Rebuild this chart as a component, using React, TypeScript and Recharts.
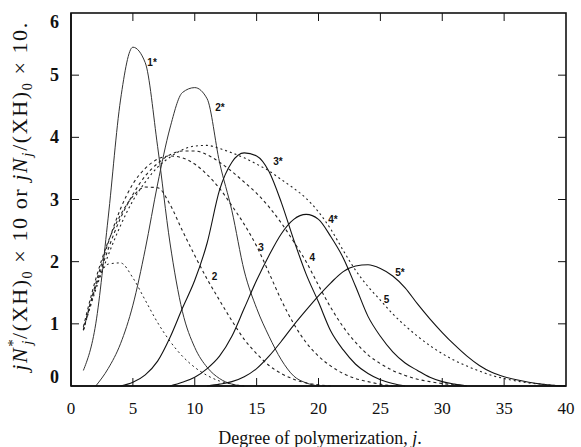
import React from 'react'
import { LineChart, Line, XAxis, YAxis, ReferenceDot } from 'recharts'

// degree of polymerization j (x categories)
const degree = [
  0, 1, 2, 3, 4, 5, 6, 7, 8, 9, 10, 11, 12, 13, 14, 15, 16, 17, 18, 19, 20,
  21, 22, 23, 24, 25, 26, 27, 28, 29, 30, 31, 32, 33, 34, 35, 36, 37, 38, 39, 40,
]

const xTicks = [0, 5, 10, 15, 20, 25, 30, 35, 40]
const yTicks = [0, 1, 2, 3, 4, 5, 6]

// solid curves 1*..5*  (index = j)
const star1 = [null, 0.25, 1.0, 2.7, 4.6, 5.45, 5.2, 3.85, 2.3, 1.2, 0.62, 0.3, 0.12, 0.03, 0]
const star2 = [null, null, 0, 0.28, 0.68, 1.3, 2.2, 3.25, 4.15, 4.72, 4.8, 4.62, 3.6, 2.82, 1.85, 1.25, 0.8, 0.42, 0.16, 0.05, 0]
const star3 = [null, null, null, null, 0, 0.06, 0.18, 0.4, 0.78, 1.25, 1.7, 2.3, 3.15, 3.6, 3.75, 3.7, 3.45, 2.95, 2.35, 1.8, 1.35, 0.88, 0.58, 0.35, 0.2, 0.1, 0.04, 0]
const star4 = [null, null, null, null, null, null, null, null, 0, 0.06, 0.14, 0.28, 0.48, 0.8, 1.25, 1.7, 2.1, 2.45, 2.68, 2.76, 2.68, 2.4, 2.06, 1.6, 1.12, 0.8, 0.55, 0.37, 0.25, 0.14, 0.07, 0.03, 0]
const star5 = [null, null, null, null, null, null, null, null, null, null, null, 0, 0.03, 0.07, 0.15, 0.28, 0.48, 0.72, 0.98, 1.22, 1.45, 1.66, 1.84, 1.93, 1.95, 1.89, 1.77, 1.58, 1.32, 1.08, 0.86, 0.66, 0.48, 0.33, 0.22, 0.15, 0.1, 0.06, 0.03, 0.01, 0]

// dashed curves 1..5
const dash1 = [null, 0.9, 1.6, 1.96, 1.98, 1.74, 1.38, 1.02, 0.72, 0.48, 0.3, 0.17, 0.08, 0.03, 0]
const dash2 = [null, 0.95, 1.72, 2.32, 2.75, 3.05, 3.2, 3.19, 2.92, 2.5, 2.1, 1.72, 1.38, 1.05, 0.75, 0.52, 0.33, 0.2, 0.11, 0.05, 0.02, 0]
const dash3 = [null, 0.9, 1.65, 2.3, 2.85, 3.25, 3.5, 3.65, 3.7, 3.67, 3.57, 3.4, 3.18, 2.9, 2.6, 2.25, 1.82, 1.38, 1.0, 0.7, 0.48, 0.32, 0.2, 0.12, 0.07, 0.03, 0]
const dash4 = [null, 0.9, 1.6, 2.2, 2.7, 3.08, 3.38, 3.58, 3.72, 3.78, 3.78, 3.72, 3.6, 3.45, 3.28, 3.1, 2.88, 2.62, 2.32, 2.0, 1.62, 1.26, 0.95, 0.7, 0.5, 0.36, 0.25, 0.17, 0.11, 0.07, 0.04, 0.02, 0]
const dash5 = [null, 0.9, 1.55, 2.1, 2.58, 2.98, 3.28, 3.52, 3.68, 3.8, 3.86, 3.87, 3.82, 3.75, 3.67, 3.57, 3.46, 3.32, 3.18, 3.02, 2.8, 2.52, 2.18, 1.86, 1.6, 1.38, 1.16, 0.97, 0.8, 0.65, 0.52, 0.41, 0.32, 0.24, 0.17, 0.12, 0.08, 0.05, 0.03, 0.01, 0]

// curve labels, in data units
const curveLabels = [
  { text: '1*', x: 6.55, y: 5.21 },
  { text: '2*', x: 12.04, y: 4.48 },
  { text: '3*', x: 16.73, y: 3.61 },
  { text: '4*', x: 21.17, y: 2.68 },
  { text: '5*', x: 26.59, y: 1.82 },
  { text: '2', x: 11.6, y: 1.76 },
  { text: '3', x: 15.35, y: 2.23 },
  { text: '4', x: 19.5, y: 2.06 },
  { text: '5', x: 25.5, y: 1.39 },
]

const series = [
  { key: 's1', values: star1, dash: undefined, color: '#333', w: 1 },
  { key: 's2', values: star2, dash: undefined, color: '#333', w: 1 },
  { key: 's3', values: star3, dash: undefined, color: '#111', w: 1.1 },
  { key: 's4', values: star4, dash: undefined, color: '#111', w: 1.1 },
  { key: 's5', values: star5, dash: undefined, color: '#111', w: 1.1 },
  { key: 'd1', values: dash1, dash: '2 3', color: '#222', w: 1 },
  { key: 'd2', values: dash2, dash: '3 3', color: '#222', w: 1.1 },
  { key: 'd3', values: dash3, dash: '3 3', color: '#222', w: 1.1 },
  { key: 'd4', values: dash4, dash: '3 3', color: '#222', w: 1.1 },
  { key: 'd5', values: dash5, dash: '2 3', color: '#222', w: 1.1 },
]

const data = degree.map((j, i) => {
  const row: any = { j }
  series.forEach(s => {
    row[s.key] = s.values[i] ?? null
  })
  return row
})

const serif = "'Liberation Serif', 'Times New Roman', serif"
const ink = '#111'

// chart layout
const W = 581
const H = 447
const margin = { top: 13, right: 15, bottom: 21, left: 26 }
const Y_AXIS_W = 45
const X_AXIS_H = 40
const PLOT_LEFT = margin.left + Y_AXIS_W
const PLOT_RIGHT = W - margin.right
const PLOT_TOP = margin.top
const PLOT_BOTTOM = H - margin.bottom - X_AXIS_H
const INNER = 8 // length of inward tick marks

function XTick({ x, y, payload }: any) {
  return (
    <text x={x} y={y} dy={6} textAnchor="middle" fontFamily={serif} fontSize={17} fill={ink}>
      {payload.value}
    </text>
  )
}

function YTick({ x, y, payload }: any) {
  // top and bottom labels sit a bit inside the frame
  const shift = payload.value === 6 ? 9 : payload.value === 0 ? -9 : 0
  return (
    <text x={x} y={y + shift} dy={6} textAnchor="end" fontFamily={serif} fontWeight={700} fontSize={18} fill={ink}>
      {payload.value}
    </text>
  )
}

// box round the plot with short inward marks on all four sides
function Frame() {
  const w = PLOT_RIGHT - PLOT_LEFT
  const h = PLOT_BOTTOM - PLOT_TOP
  const xs = xTicks.slice(1, -1).map(t => PLOT_LEFT + (w * t) / 40)
  const ys = yTicks.slice(1, -1).map(t => PLOT_BOTTOM - (h * t) / 6)
  return (
    <g>
      <rect x={PLOT_LEFT} y={PLOT_TOP} width={w} height={h} fill="none" stroke={ink} strokeWidth={1.6} />
      {xs.map(px => (
        <g key={`x${px}`}>
          <line x1={px} x2={px} y1={PLOT_BOTTOM} y2={PLOT_BOTTOM - INNER} stroke={ink} strokeWidth={1} />
          <line x1={px} x2={px} y1={PLOT_TOP} y2={PLOT_TOP + INNER} stroke={ink} strokeWidth={1} />
        </g>
      ))}
      {ys.map(py => (
        <g key={`y${py}`}>
          <line x1={PLOT_LEFT} x2={PLOT_LEFT + INNER} y1={py} y2={py} stroke={ink} strokeWidth={1} />
          <line x1={PLOT_RIGHT} x2={PLOT_RIGHT - INNER} y1={py} y2={py} stroke={ink} strokeWidth={1} />
        </g>
      ))}
    </g>
  )
}

function XTitle() {
  return (
    <g>
      <Frame />
      <text x={320} y={444} textAnchor="middle" fontFamily={serif} fontSize={18} fill={ink}>
        Degree of polymerization,{'\u00a0'}
        <tspan fontStyle="italic">j</tspan>.
      </text>
    </g>
  )
}

function YTitle() {
  const cx = 27
  const cy = 196
  return (
    <text
      x={cx}
      y={cy}
      transform={`rotate(-90 ${cx} ${cy})`}
      textAnchor="middle"
      fontFamily={serif}
      fontSize={22}
      letterSpacing={1.6}
      fill={ink}
    >
      <tspan fontStyle="italic">jN</tspan>
      <tspan fontSize={15} dy={-9}>*</tspan>
      <tspan fontSize={15} fontStyle="italic" dx={-7} dy={14}>j</tspan>
      <tspan dy={-5}>/(XH)</tspan>
      <tspan fontSize={14} dy={5}>0</tspan>
      <tspan dy={-5}>{'\u00a0×\u00a010\u00a0or\u00a0'}</tspan>
      <tspan fontStyle="italic">jN</tspan>
      <tspan fontSize={15} fontStyle="italic" dy={5}>j</tspan>
      <tspan dy={-5}>/(XH)</tspan>
      <tspan fontSize={14} dy={5}>0</tspan>
      <tspan dy={-5}>{'\u00a0×\u00a010.'}</tspan>
    </text>
  )
}

export default function App() {
  const frame = { stroke: ink, strokeWidth: 1.6 }
  return (
    <div style={{ position: 'absolute', left: 0, top: 0, background: '#fff' }}>
      <LineChart width={W} height={H} data={data} margin={margin}>
        <XAxis
          dataKey="j"
          type="number"
          domain={[0, 40]}
          ticks={xTicks}
          height={X_AXIS_H}
          axisLine={frame}
          tickLine={false}
          tickMargin={16}
          tick={<XTick />}
          label={<XTitle />}
        />
        <YAxis
          type="number"
          domain={[0, 6]}
          ticks={yTicks}
          width={Y_AXIS_W}
          axisLine={frame}
          tickLine={false}
          tickMargin={6}
          tick={<YTick />}
          label={<YTitle />}
        />
        {series.map(s => (
          <Line
            key={s.key}
            dataKey={s.key}
            type="monotone"
            stroke={s.color}
            strokeWidth={s.w}
            strokeDasharray={s.dash}
            dot={false}
            activeDot={false}
            isAnimationActive={false}
          />
        ))}
        {curveLabels.map(l => (
          <ReferenceDot
            key={l.text}
            x={l.x}
            y={l.y}
            r={0}
            stroke="none"
            fill="none"
            ifOverflow="visible"
            label={{
              value: l.text,
              position: 'center',
              fill: ink,
              fontSize: 10,
              fontWeight: 700,
              fontFamily: "'Liberation Sans', Arial, sans-serif",
            }}
          />
        ))}
      </LineChart>
    </div>
  )
}
